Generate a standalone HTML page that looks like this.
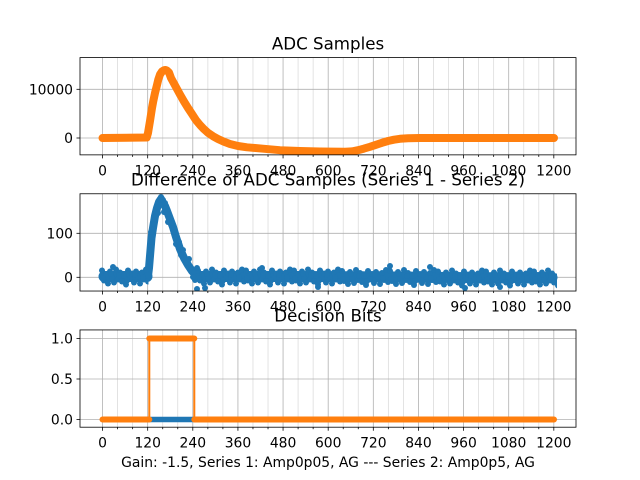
<!DOCTYPE html>
<html><head><meta charset="utf-8"><style>
html,body{margin:0;padding:0;background:#fff}
svg{display:block}
text{font-family:"DejaVu Sans","Liberation Sans",sans-serif;fill:#000}
.t{font-size:16.67px;text-anchor:middle}
.xl{font-size:13.89px;text-anchor:middle}
.yl{font-size:13.89px;text-anchor:end}
</style></head><body>
<svg width="640" height="480" viewBox="0 0 640 480" xmlns="http://www.w3.org/2000/svg">
<defs>
<g id="vg">
<g stroke="#dcdcdc" stroke-width="0.8">
<line x1="117.59" y1="0" x2="117.59" y2="97.26"/><line x1="132.63" y1="0" x2="132.63" y2="97.26"/>
<line x1="162.72" y1="0" x2="162.72" y2="97.26"/><line x1="177.76" y1="0" x2="177.76" y2="97.26"/>
<line x1="207.85" y1="0" x2="207.85" y2="97.26"/><line x1="222.89" y1="0" x2="222.89" y2="97.26"/>
<line x1="252.97" y1="0" x2="252.97" y2="97.26"/><line x1="268.02" y1="0" x2="268.02" y2="97.26"/>
<line x1="298.10" y1="0" x2="298.10" y2="97.26"/><line x1="313.14" y1="0" x2="313.14" y2="97.26"/>
<line x1="343.23" y1="0" x2="343.23" y2="97.26"/><line x1="358.27" y1="0" x2="358.27" y2="97.26"/>
<line x1="388.36" y1="0" x2="388.36" y2="97.26"/><line x1="403.40" y1="0" x2="403.40" y2="97.26"/>
<line x1="433.48" y1="0" x2="433.48" y2="97.26"/><line x1="448.53" y1="0" x2="448.53" y2="97.26"/>
<line x1="478.61" y1="0" x2="478.61" y2="97.26"/><line x1="493.65" y1="0" x2="493.65" y2="97.26"/>
<line x1="523.74" y1="0" x2="523.74" y2="97.26"/><line x1="538.78" y1="0" x2="538.78" y2="97.26"/>
</g>
<g stroke="#b0b0b0" stroke-width="0.8">
<line x1="102.55" y1="0" x2="102.55" y2="97.26"/><line x1="147.68" y1="0" x2="147.68" y2="97.26"/>
<line x1="192.80" y1="0" x2="192.80" y2="97.26"/><line x1="237.93" y1="0" x2="237.93" y2="97.26"/>
<line x1="283.06" y1="0" x2="283.06" y2="97.26"/><line x1="328.19" y1="0" x2="328.19" y2="97.26"/>
<line x1="373.31" y1="0" x2="373.31" y2="97.26"/><line x1="418.44" y1="0" x2="418.44" y2="97.26"/>
<line x1="463.57" y1="0" x2="463.57" y2="97.26"/><line x1="508.70" y1="0" x2="508.70" y2="97.26"/>
<line x1="553.82" y1="0" x2="553.82" y2="97.26"/>
</g>
</g>
<g id="tk" stroke="#000" stroke-width="0.8">
<line x1="102.55" y1="97.26" x2="102.55" y2="100.76"/><line x1="147.68" y1="97.26" x2="147.68" y2="100.76"/>
<line x1="192.80" y1="97.26" x2="192.80" y2="100.76"/><line x1="237.93" y1="97.26" x2="237.93" y2="100.76"/>
<line x1="283.06" y1="97.26" x2="283.06" y2="100.76"/><line x1="328.19" y1="97.26" x2="328.19" y2="100.76"/>
<line x1="373.31" y1="97.26" x2="373.31" y2="100.76"/><line x1="418.44" y1="97.26" x2="418.44" y2="100.76"/>
<line x1="463.57" y1="97.26" x2="463.57" y2="100.76"/><line x1="508.70" y1="97.26" x2="508.70" y2="100.76"/>
<line x1="553.82" y1="97.26" x2="553.82" y2="100.76"/>
<line x1="117.59" y1="97.26" x2="117.59" y2="99.26"/><line x1="132.63" y1="97.26" x2="132.63" y2="99.26"/>
<line x1="162.72" y1="97.26" x2="162.72" y2="99.26"/><line x1="177.76" y1="97.26" x2="177.76" y2="99.26"/>
<line x1="207.85" y1="97.26" x2="207.85" y2="99.26"/><line x1="222.89" y1="97.26" x2="222.89" y2="99.26"/>
<line x1="252.97" y1="97.26" x2="252.97" y2="99.26"/><line x1="268.02" y1="97.26" x2="268.02" y2="99.26"/>
<line x1="298.10" y1="97.26" x2="298.10" y2="99.26"/><line x1="313.14" y1="97.26" x2="313.14" y2="99.26"/>
<line x1="343.23" y1="97.26" x2="343.23" y2="99.26"/><line x1="358.27" y1="97.26" x2="358.27" y2="99.26"/>
<line x1="388.36" y1="97.26" x2="388.36" y2="99.26"/><line x1="403.40" y1="97.26" x2="403.40" y2="99.26"/>
<line x1="433.48" y1="97.26" x2="433.48" y2="99.26"/><line x1="448.53" y1="97.26" x2="448.53" y2="99.26"/>
<line x1="478.61" y1="97.26" x2="478.61" y2="99.26"/><line x1="493.65" y1="97.26" x2="493.65" y2="99.26"/>
<line x1="523.74" y1="97.26" x2="523.74" y2="99.26"/><line x1="538.78" y1="97.26" x2="538.78" y2="99.26"/>
</g>
<g id="nz" fill="#1f77b4">
<circle cx="0" cy="-6" r="3"/><circle cx="2" cy="4" r="3"/><circle cx="4" cy="-2" r="3"/><circle cx="6" cy="7" r="3"/>
<circle cx="8" cy="-5" r="3"/><circle cx="10" cy="1" r="3"/><circle cx="12" cy="6" r="3"/><circle cx="14" cy="-7" r="3"/>
<circle cx="16" cy="3" r="3"/><circle cx="18" cy="-4" r="3"/><circle cx="20" cy="5" r="3"/><circle cx="22" cy="-1" r="3"/>
<circle cx="24" cy="8" r="3"/><circle cx="26" cy="-6" r="3"/><circle cx="28" cy="2" r="3"/><circle cx="30" cy="-3" r="3"/>
<circle cx="32" cy="6" r="3"/><circle cx="34" cy="-5" r="3"/><circle cx="36" cy="0" r="3"/><circle cx="38" cy="7" r="3"/>
<circle cx="40" cy="-4" r="3"/><circle cx="42" cy="3" r="3"/><circle cx="44" cy="-7" r="3"/><circle cx="46" cy="5" r="3"/>
<circle cx="1" cy="2" r="3"/><circle cx="9" cy="-3" r="3"/><circle cx="17" cy="-1" r="3"/><circle cx="25" cy="4" r="3"/>
<circle cx="33" cy="-2" r="3"/><circle cx="41" cy="1" r="3"/>
</g>
<clipPath id="c1"><rect x="80" y="57.6" width="496" height="97.26"/></clipPath>
<clipPath id="c2"><rect x="80" y="193.77" width="496" height="97.26"/></clipPath>
<clipPath id="c3"><rect x="80" y="329.94" width="496" height="97.26"/></clipPath>
<clipPath id="cb1"><rect x="98" y="193.77" width="50.5" height="97.26"/></clipPath>
<clipPath id="cb2"><rect x="196" y="193.77" width="361" height="97.26"/></clipPath>
</defs>
<rect width="640" height="480" fill="#fff"/>

<!-- Axes 1 -->
<use href="#vg" transform="translate(0,57.6)"/>
<g stroke="#b0b0b0" stroke-width="0.8"><line x1="80" y1="89.3" x2="576" y2="89.3"/><line x1="80" y1="138" x2="576" y2="138"/></g>
<g clip-path="url(#c1)" fill="none" stroke-linejoin="round" stroke-linecap="round">
<path stroke="#ff7f0e" stroke-width="8" d="M102.5,138 L146.7,137.5 L148,133 L150,121 L152,108 L153.3,101 L155,93 L157,85 L158.3,79.5 L160,74.5 L162,71.5 L164,70.2 L165.5,70 L167,70.6 L169,72.5 L171,78 L174,83.5 L177,89 L180,94.5 L184,101.5 L188,108 L192,114 L196,120.2 L200,125 L204,129.2 L208,132.8 L213,136.2 L218,139 L224,141.8 L230,144 L238,146 L247,147.3 L263,148.7 L280,150.2 L300,151 L320,151.5 L345,151.8 L352,151.4 L358,150.2 L364,148.6 L370,146.8 L376,144.8 L382,142.8 L388,141 L394,139.7 L400,138.8 L408,138.2 L420,138 L554,138"/>
</g>
<use href="#tk" transform="translate(0,57.6)"/>
<g stroke="#000" stroke-width="0.8"><line x1="76.5" y1="89.3" x2="80" y2="89.3"/><line x1="76.5" y1="138" x2="80" y2="138"/></g>
<rect x="80" y="57.6" width="496" height="97.26" fill="none" stroke="#000" stroke-width="0.8"/>
<text class="yl" x="73" y="94.3">10000</text>
<text class="yl" x="73" y="143">0</text>
<text class="xl" x="102.55" y="175.4">0</text><text class="xl" x="147.68" y="175.4">120</text><text class="xl" x="192.80" y="175.4">240</text><text class="xl" x="237.93" y="175.4">360</text><text class="xl" x="283.06" y="175.4">480</text><text class="xl" x="328.19" y="175.4">600</text><text class="xl" x="373.31" y="175.4">720</text><text class="xl" x="418.44" y="175.4">840</text><text class="xl" x="463.57" y="175.4">960</text><text class="xl" x="508.70" y="175.4">1080</text><text class="xl" x="553.82" y="175.4">1200</text>
<text class="t" x="328" y="49.3">ADC Samples</text>

<!-- Axes 2 -->
<use href="#vg" transform="translate(0,193.77)"/>
<g stroke="#b0b0b0" stroke-width="0.8"><line x1="80" y1="233.3" x2="576" y2="233.3"/><line x1="80" y1="277.3" x2="576" y2="277.3"/></g>
<g clip-path="url(#c2)">
<g fill="none" stroke="#1f77b4" stroke-linejoin="round" stroke-linecap="round">
<path stroke-width="11" d="M104,276.5 L147,276.5 M199,276.5 L300,276.5 L400,277 L480,277.8 L552,277.5"/>
<path stroke-width="8" d="M148,276 L149,268 L150,256 L151.5,238 L153,228 L155,216 L157,208 L159,202 L161,199 L163,203 L165,206 L167,211 L170,219 L173,227 L176,237 L180,249 L184,258 L188,265 L192,271 L196,275"/>
</g>
<g clip-path="url(#cb1)">
<use href="#nz" transform="translate(102,276.5)"/>
</g>
<g clip-path="url(#cb2)">
<use href="#nz" transform="translate(198,276.5)"/>
<use href="#nz" transform="translate(246,276.5)"/>
<use href="#nz" transform="translate(294,276.5)"/>
<use href="#nz" transform="translate(342,277)"/>
<use href="#nz" transform="translate(390,277)"/>
<use href="#nz" transform="translate(438,277.5)"/>
<use href="#nz" transform="translate(486,277.5)"/>
<use href="#nz" transform="translate(534,277.5)"/>
</g>
<g fill="#1f77b4">
<circle cx="150" cy="250" r="3"/><circle cx="149" cy="262" r="3"/><circle cx="152" cy="242" r="3"/><circle cx="151" cy="232" r="3"/>
<circle cx="154" cy="224" r="3"/><circle cx="156" cy="216" r="3"/><circle cx="158" cy="207" r="3"/><circle cx="160" cy="200" r="3"/>
<circle cx="161" cy="197" r="3"/><circle cx="163" cy="200" r="3"/><circle cx="165" cy="203" r="3"/><circle cx="158" cy="213" r="3"/>
<circle cx="164" cy="212" r="3"/><circle cx="168" cy="214" r="3"/><circle cx="168" cy="222" r="3"/><circle cx="172" cy="223" r="3"/>
<circle cx="174" cy="232" r="3"/><circle cx="176" cy="244" r="3"/><circle cx="179" cy="242" r="3"/><circle cx="181" cy="255" r="3"/>
<circle cx="183" cy="250" r="3"/><circle cx="186" cy="263" r="3"/><circle cx="189" cy="259" r="3"/><circle cx="191" cy="268" r="3"/>
<circle cx="195" cy="280" r="3"/><circle cx="197" cy="268" r="3"/><circle cx="193" cy="277" r="3"/>
<circle cx="113" cy="267" r="3"/><circle cx="390" cy="266" r="3"/><circle cx="205" cy="288" r="3"/><circle cx="465" cy="288" r="3"/>
<circle cx="197" cy="289" r="3"/><circle cx="262" cy="268" r="3"/><circle cx="318" cy="287" r="3"/><circle cx="430" cy="267" r="3"/><circle cx="500" cy="287" r="3"/>
</g>
</g>
<use href="#tk" transform="translate(0,193.77)"/>
<g stroke="#000" stroke-width="0.8"><line x1="76.5" y1="233.3" x2="80" y2="233.3"/><line x1="76.5" y1="277.3" x2="80" y2="277.3"/></g>
<rect x="80" y="193.77" width="496" height="97.26" fill="none" stroke="#000" stroke-width="0.8"/>
<text class="yl" x="73" y="238.3">100</text>
<text class="yl" x="73" y="282.3">0</text>
<text class="xl" x="102.55" y="311.5">0</text><text class="xl" x="147.68" y="311.5">120</text><text class="xl" x="192.80" y="311.5">240</text><text class="xl" x="237.93" y="311.5">360</text><text class="xl" x="283.06" y="311.5">480</text><text class="xl" x="328.19" y="311.5">600</text><text class="xl" x="373.31" y="311.5">720</text><text class="xl" x="418.44" y="311.5">840</text><text class="xl" x="463.57" y="311.5">960</text><text class="xl" x="508.70" y="311.5">1080</text><text class="xl" x="553.82" y="311.5">1200</text>
<text class="t" x="328" y="185.4">Difference of ADC Samples (Series 1 - Series 2)</text>

<!-- Axes 3 -->
<use href="#vg" transform="translate(0,329.94)"/>
<g stroke="#b0b0b0" stroke-width="0.8"><line x1="80" y1="338.5" x2="576" y2="338.5"/><line x1="80" y1="379" x2="576" y2="379"/><line x1="80" y1="419.5" x2="576" y2="419.5"/></g>
<g clip-path="url(#c3)" fill="none" stroke-linecap="round" stroke-linejoin="round">
<path stroke="#1f77b4" stroke-width="5.5" d="M149.3,419.5 L194.3,419.5"/>
<path stroke="#ff7f0e" stroke-width="2" d="M149.3,419.5 L149.3,338.5 M194.3,338.5 L194.3,419.5"/>
<path stroke="#ff7f0e" stroke-width="6" d="M102.5,419.5 L149.3,419.5 M149.3,338.5 L194.3,338.5 M194.3,419.5 L554,419.5"/>
</g>
<use href="#tk" transform="translate(0,329.94)"/>
<g stroke="#000" stroke-width="0.8"><line x1="76.5" y1="338.5" x2="80" y2="338.5"/><line x1="76.5" y1="379" x2="80" y2="379"/><line x1="76.5" y1="419.5" x2="80" y2="419.5"/></g>
<rect x="80" y="329.94" width="496" height="97.26" fill="none" stroke="#000" stroke-width="0.8"/>
<text class="yl" x="73" y="343.5">1.0</text>
<text class="yl" x="73" y="384">0.5</text>
<text class="yl" x="73" y="424.5">0.0</text>
<text class="xl" x="102.55" y="447.7">0</text><text class="xl" x="147.68" y="447.7">120</text><text class="xl" x="192.80" y="447.7">240</text><text class="xl" x="237.93" y="447.7">360</text><text class="xl" x="283.06" y="447.7">480</text><text class="xl" x="328.19" y="447.7">600</text><text class="xl" x="373.31" y="447.7">720</text><text class="xl" x="418.44" y="447.7">840</text><text class="xl" x="463.57" y="447.7">960</text><text class="xl" x="508.70" y="447.7">1080</text><text class="xl" x="553.82" y="447.7">1200</text>
<text class="t" x="328" y="321.6">Decision Bits</text>
<text class="xl" x="328" y="467">Gain: -1.5, Series 1: Amp0p05, AG --- Series 2: Amp0p5, AG</text>
</svg>
</body></html>
